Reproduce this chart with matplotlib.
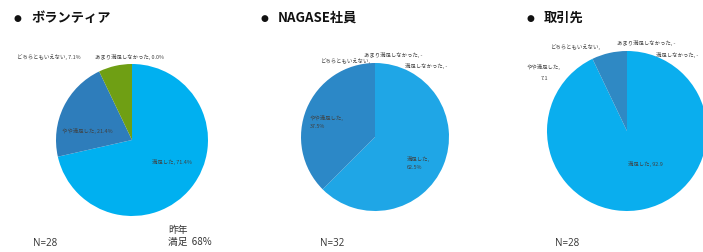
"""
Three satisfaction pies (volunteer / NAGASE staff / clients).
"""
import matplotlib
matplotlib.use("Agg")
import matplotlib.pyplot as plt

plt.rcParams["font.family"] = ["Noto Sans CJK JP", "DejaVu Sans"]

W, H = 703, 252

# data
groups = ["ボランティア", "NAGASE社員", "取引先"]
categories = ["満足した", "やや満足した", "どちらともいえない", "あまり満足しなかった", "満足しなかった"]
volunteer = [71.4, 21.4, 7.1, 0.0, 0.0]
nagase = [62.5, 37.5, 0.0, 0.0, 0.0]
client = [92.9, 7.1, 0.0, 0.0, 0.0]
counts = [28, 32, 28]
last_year = "昨年\n満足  68%"

colors = [
    ["#00B0F0", "#2E7DBB", "#6F9F14", "#7FA614", "#5B9BD5"],
    ["#1FA6E6", "#2C88C7", "#3A8FC8", "#2C88C7", "#1FA6E6"],
    ["#0AAEEE", "#2F89C4", "#2F89C4", "#2F89C4", "#0AAEEE"],
]

# pixel geometry: centre x, centre y (from top), radius
pies = [(132, 140, 76), (375, 137, 74), (627, 131, 80)]
bullet_x = [17, 264, 530]
title_x = [31, 278, 544]
n_x = [33, 320, 555]

# label texts and pixel positions (x, y from top)
labels = [
    [("どちらともいえない, 7.1%", 17, 57),
     ("あまり満足しなかった, 0.0%", 95, 57),
     ("やや満足した, 21.4%", 62, 131),
     ("満足した, 71.4%", 152, 162)],
    [("どちらともいえない,", 320, 61),
     ("あまり満足しなかった, -", 364, 55),
     ("満足しなかった, -", 405, 66),
     ("やや満足した,\n37.5%", 310, 122),
     ("満足した,\n62.5%", 407, 163)],
    [("どちらともいえない,", 550, 47),
     ("あまり満足しなかった, -", 617, 43),
     ("満足しなかった, -", 656, 55),
     ("やや満足した,", 527, 67),
     ("7.1", 541, 79),
     ("満足した, 92.9", 628, 164)],
]

fig = plt.figure(figsize=(W / 100, H / 100), dpi=100)
fig.patch.set_facecolor("white")

series = [volunteer, nagase, client]
for i, (vals, (cx, cy, r)) in enumerate(zip(series, pies)):
    ax = fig.add_axes([(cx - r) / W, (H - cy - r) / H, 2 * r / W, 2 * r / H])
    ax.pie(vals, colors=colors[i], startangle=90, counterclock=False,
           wedgeprops=dict(linewidth=0), radius=1)
    ax.set_xlim(-1, 1)
    ax.set_ylim(-1, 1)
    ax.set_aspect("auto")
    ax.axis("off")

    fig.text(bullet_x[i] / W, 1 - 18 / H, "●", fontsize=6.5,
             va="center", ha="center", color="#111111",
             family=["DejaVu Sans"])
    fig.text(title_x[i] / W, 1 - 18 / H, groups[i], fontsize=9.5,
             fontweight="bold", va="center", ha="left", color="#111111")
    fig.text(n_x[i] / W, 1 - 243 / H, f"N={counts[i]}", fontsize=7,
             va="center", ha="left", color="#333333",
             family=["Open Sans", "DejaVu Sans"])
    for txt, x, y in labels[i]:
        fig.text(x / W, 1 - y / H, txt, fontsize=3.9, va="center", ha="left",
                 color="#404040", linespacing=1.6)

fig.text(168 / W, 1 - 236 / H, last_year, fontsize=7, va="center", ha="left",
         color="#333333", linespacing=1.25)

fig.savefig("out.png", dpi=100, facecolor="white")
